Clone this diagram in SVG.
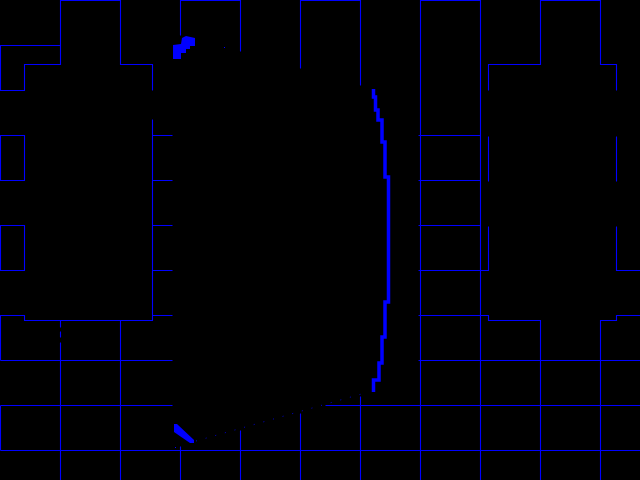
<svg xmlns="http://www.w3.org/2000/svg" width="640" height="480" viewBox="0 0 640 480">
<style>
.w{fill:none;stroke:#0000ff;stroke-width:1.1}
.edge{fill:none;stroke:#0000ff;stroke-width:3.5}
.blob{fill:#0000ff;stroke:none}
.dots{fill:none;stroke:#0000ff;stroke-width:1;stroke-dasharray:1 9;opacity:0.8}
</style>
<rect x="0" y="0" width="640" height="480" fill="#000000"/>
<g id="plan-lines" transform="translate(0.5,0.5)">
<path class="w" d="M152,90 V64 H120 V0 H60 V64 H24 V90 H0 V45 H60"/>
<path class="w" d="M0,135 H24 V180 H0 Z M0,225 H24 V270 H0 Z"/>
<path class="w" d="M152,119 V320 H24 V315 H0 V360"/>
<path class="w" d="M152,135 H172 M152,180 H172 M152,225 H172 M152,270 H172 M152,315 H172"/>
<path class="w" d="M0,360 H172 M0,405 H172 M0,405 V450 M0,450 H640"/>
<path class="w" d="M60,320 V327 M60,331 V337 M60,342 V480 M120,320 V480"/>
<path class="w" d="M180,35 V0 H240 V51 M300,68 V0 H360 V85"/>
<path class="w" d="M180,446 V480 M240,430 V480 M300,413 V480 M360,396 V480 M325,405 H640"/>
<path class="w" d="M420,480 V0 H480 V480"/>
<path class="w" d="M418,135 H480 M418,180 H480 M418,225 H480 M418,270 H488 V226 M488,181 V136 M488,90 V64 H540 V0 H600 V64 H616 V90 M616,136 V181 M616,226 V270 H640"/>
<path class="w" d="M418,315 H488 V320 H540 V480 M600,480 V320 H616 V315 H640 M418,360 H640"/>
</g>
<g id="outline">
<path class="edge" d="M373.5,89 V97 H375.5 V110 H378 V120 H382 V142 H385 V177 H388.5 V302 H385 V337 H382 V363 H379 V380 H373.5 V392"/>
<polygon class="blob" points="173,45 181,44 182,38 186,36 195,38 195,46 190,46 190,49 186,49 186,53 181,53 181,59 173,59"/>
<polygon class="blob" points="174,424 177,424 194,440 194,443 190,443 174,432"/>
<path class="dots" d="M196,441 L365,393"/>
<rect class="blob" x="224" y="47" width="1" height="1"/>
<rect class="blob" x="175" y="447" width="1" height="1"/>
</g>
</svg>
